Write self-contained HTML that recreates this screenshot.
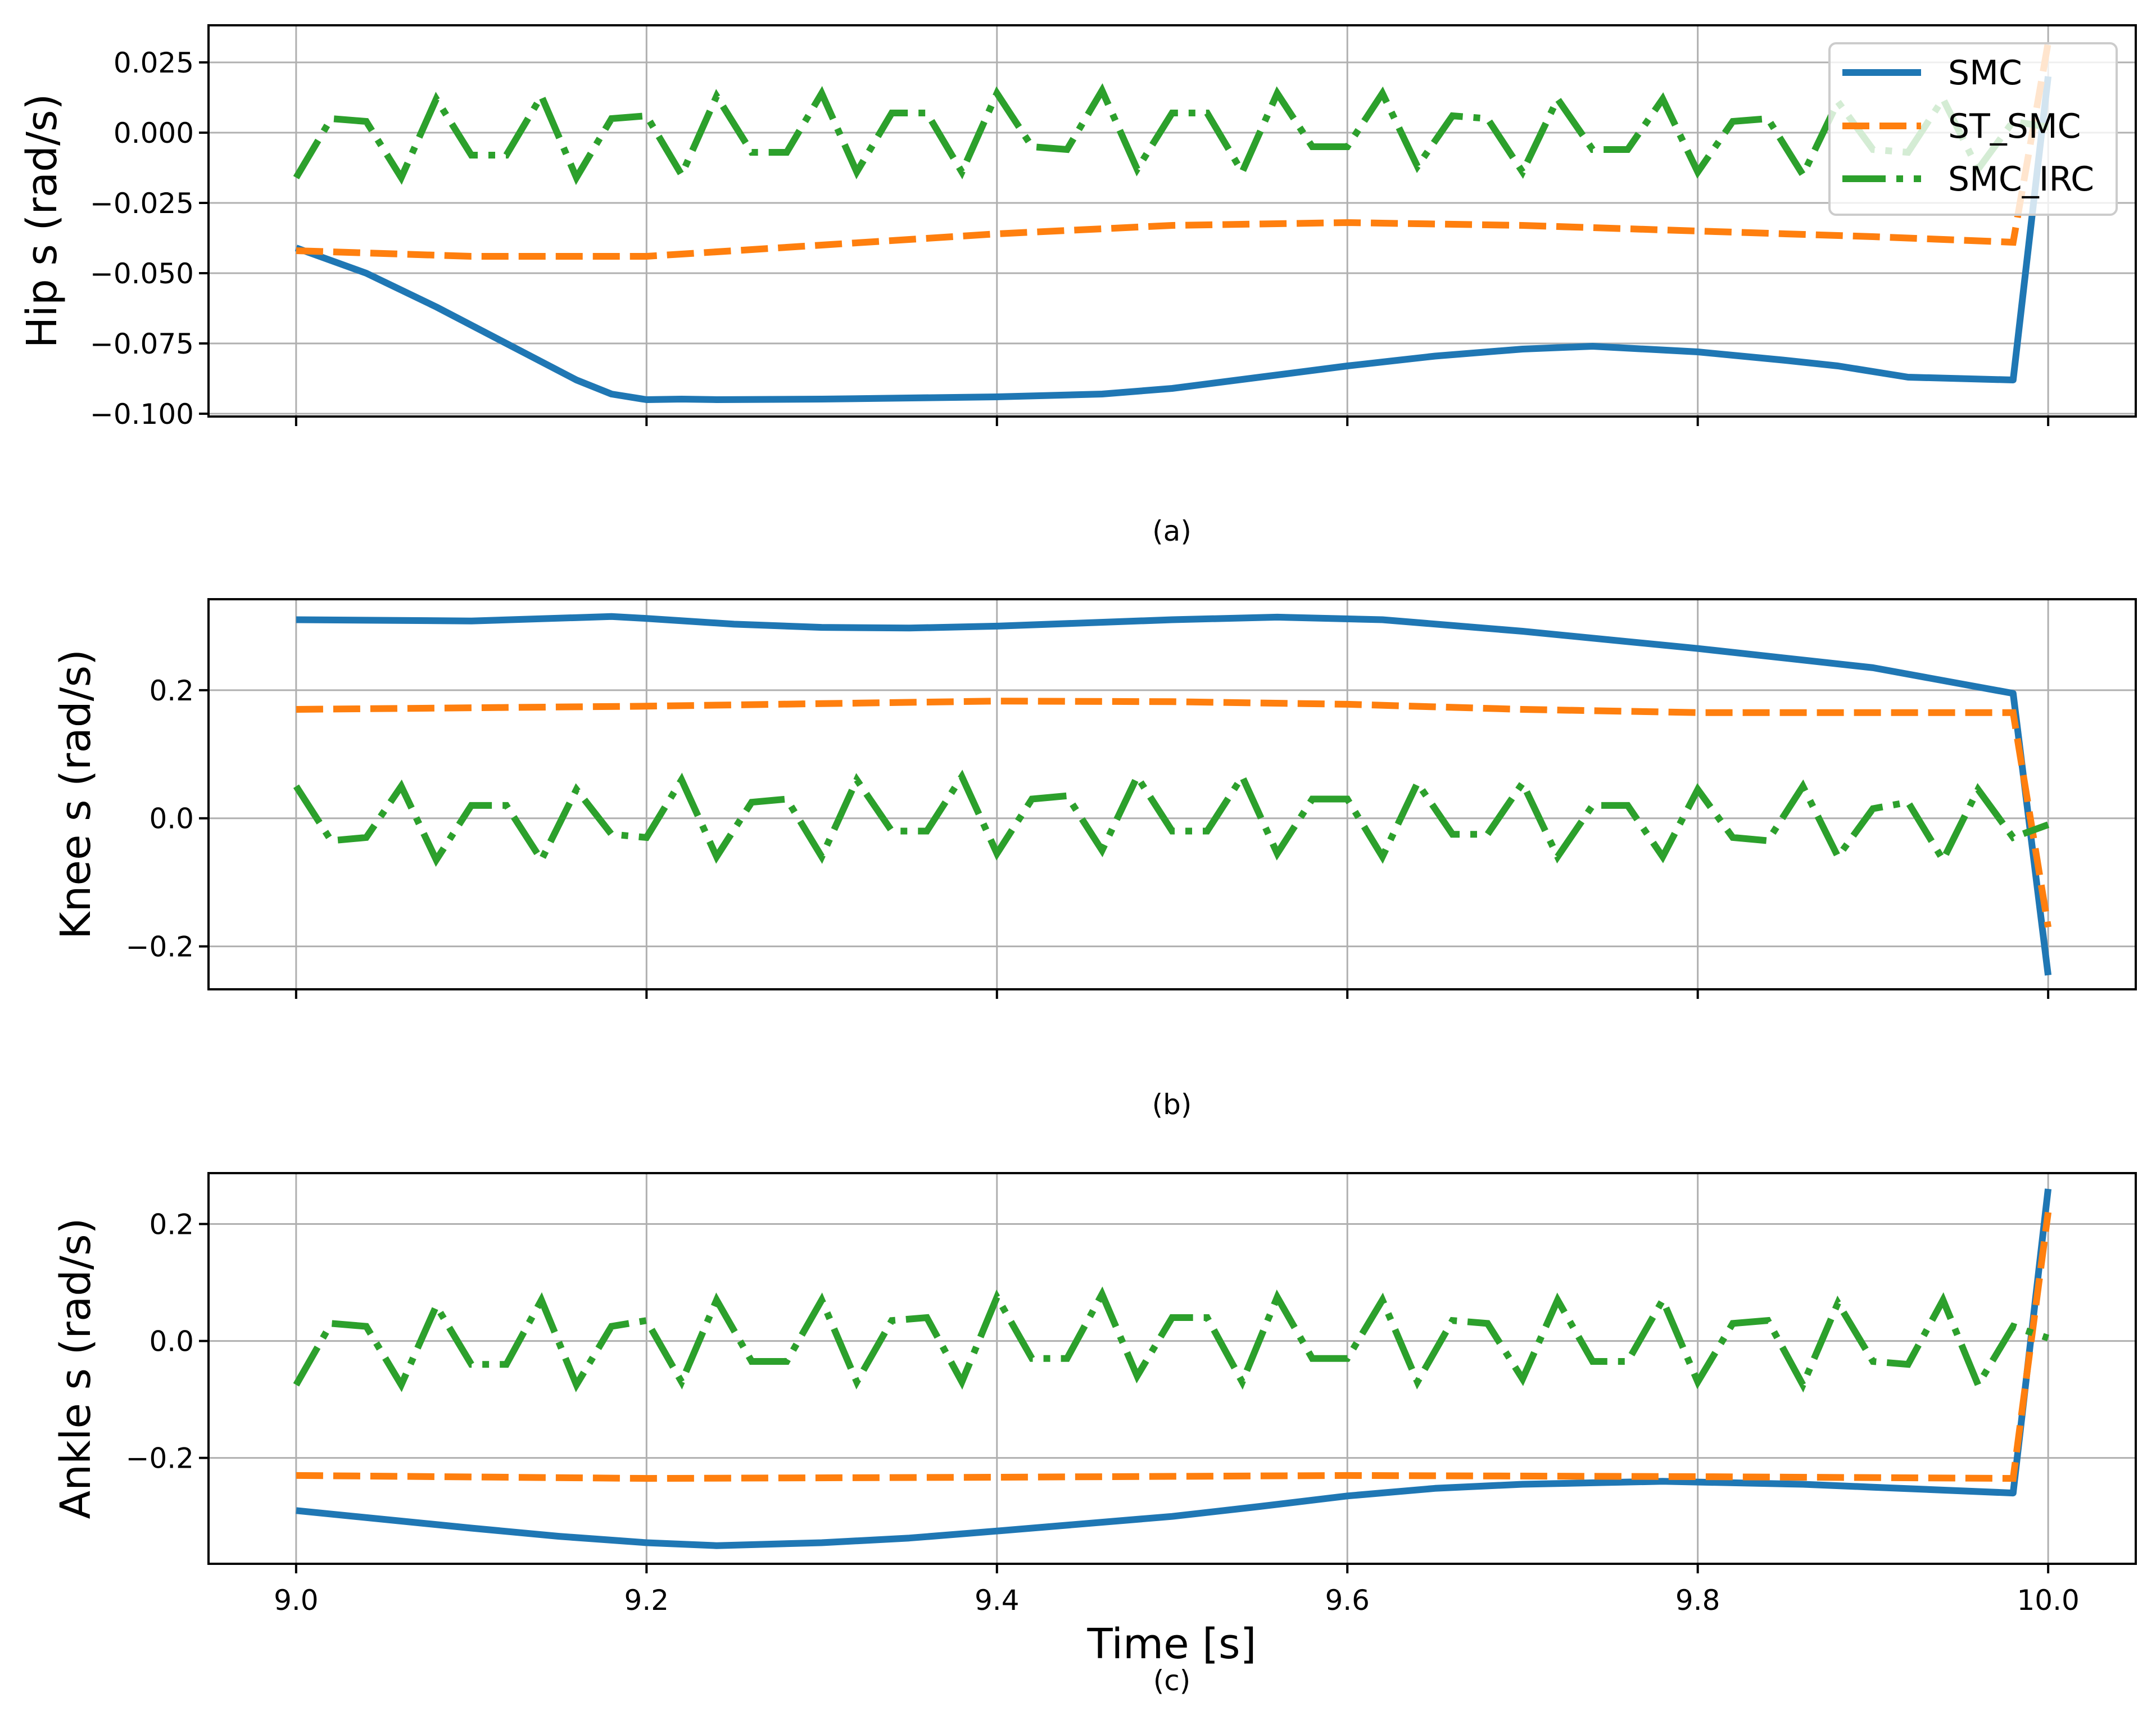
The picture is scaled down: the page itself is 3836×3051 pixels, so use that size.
<!DOCTYPE html>
<html><head><meta charset="utf-8">
<style>
html,body{margin:0;padding:0;background:#fff;}
svg{display:block;font-family:"DejaVu Sans","Liberation Sans",sans-serif;}
</style></head>
<body>
<svg id="chart" width="3836" height="3051" viewBox="0 0 3836 3051" xmlns="http://www.w3.org/2000/svg"></svg>
<script>
const timeGrid = [9.0,9.02,9.04,9.06,9.08,9.10,9.12,9.14,9.16,9.18,9.20,9.22,9.24,9.26,9.28,9.30,9.32,9.34,9.36,9.38,9.40,9.42,9.44,9.46,9.48,9.50,9.52,9.54,9.56,9.58,9.60,9.62,9.64,9.66,9.68,9.70,9.72,9.74,9.76,9.78,9.80,9.82,9.84,9.86,9.88,9.90,9.92,9.94,9.96,9.98,10.0];
const xTicks = [9.0,9.2,9.4,9.6,9.8,10.0];
const xTickLabels = ["9.0","9.2","9.4","9.6","9.8","10.0"];

const hipSmcT = [9.0,9.04,9.08,9.12,9.16,9.18,9.20,9.22,9.24,9.30,9.40,9.46,9.50,9.55,9.60,9.65,9.70,9.74,9.80,9.85,9.88,9.92,9.98,10.0];
const hipSmc = [-0.041,-0.050,-0.062,-0.075,-0.088,-0.093,-0.095,-0.0948,-0.095,-0.0948,-0.094,-0.093,-0.091,-0.087,-0.083,-0.0795,-0.077,-0.076,-0.078,-0.081,-0.083,-0.087,-0.088,0.020];
const hipStT = [9.0,9.1,9.2,9.3,9.4,9.5,9.6,9.7,9.8,9.9,9.98,10.0];
const hipSt = [-0.042,-0.044,-0.044,-0.040,-0.036,-0.033,-0.032,-0.033,-0.035,-0.037,-0.039,0.032];
const hipIrc = [-0.016,0.005,0.004,-0.016,0.012,-0.008,-0.008,0.013,-0.016,0.005,0.006,-0.015,0.013,-0.007,-0.007,0.014,-0.014,0.007,0.007,-0.014,0.014,-0.005,-0.006,0.015,-0.013,0.007,0.007,-0.014,0.014,-0.005,-0.005,0.014,-0.012,0.006,0.005,-0.014,0.012,-0.006,-0.006,0.012,-0.014,0.004,0.005,-0.015,0.011,-0.006,-0.007,0.012,-0.013,0.004,0.002];

const kneeSmcT = [9.0,9.1,9.18,9.2,9.25,9.3,9.35,9.4,9.5,9.56,9.62,9.7,9.8,9.9,9.98,10.0];
const kneeSmc = [0.31,0.308,0.315,0.312,0.303,0.298,0.297,0.300,0.310,0.314,0.310,0.292,0.265,0.235,0.195,-0.245];
const kneeStT = [9.0,9.2,9.4,9.5,9.6,9.7,9.8,9.98,10.0];
const kneeSt = [0.170,0.175,0.183,0.182,0.178,0.170,0.165,0.165,-0.170];
const kneeIrc = [0.05,-0.035,-0.03,0.05,-0.065,0.02,0.02,-0.065,0.045,-0.025,-0.03,0.06,-0.06,0.025,0.03,-0.06,0.06,-0.02,-0.02,0.065,-0.055,0.03,0.035,-0.05,0.065,-0.02,-0.02,0.065,-0.055,0.03,0.03,-0.06,0.055,-0.025,-0.025,0.055,-0.06,0.02,0.02,-0.06,0.045,-0.03,-0.035,0.05,-0.06,0.015,0.025,-0.065,0.045,-0.03,-0.01];

const ankleSmcT = [9.0,9.1,9.15,9.2,9.24,9.3,9.35,9.4,9.5,9.55,9.6,9.65,9.7,9.78,9.86,9.9,9.98,10.0];
const ankleSmc = [-0.29,-0.32,-0.334,-0.345,-0.35,-0.345,-0.337,-0.325,-0.300,-0.283,-0.265,-0.252,-0.245,-0.240,-0.245,-0.250,-0.260,0.26];
const ankleStT = [9.0,9.2,9.4,9.6,9.8,9.98,10.0];
const ankleSt = [-0.230,-0.235,-0.233,-0.230,-0.232,-0.235,0.22];
const ankleIrc = [-0.075,0.03,0.025,-0.075,0.06,-0.04,-0.04,0.07,-0.075,0.025,0.035,-0.07,0.07,-0.035,-0.035,0.07,-0.07,0.035,0.04,-0.07,0.075,-0.03,-0.03,0.08,-0.06,0.04,0.04,-0.07,0.075,-0.03,-0.03,0.07,-0.07,0.035,0.03,-0.065,0.07,-0.035,-0.035,0.07,-0.07,0.03,0.035,-0.075,0.065,-0.035,-0.04,0.07,-0.075,0.025,0.005];

const hipYTicks = [-0.1,-0.075,-0.05,-0.025,0,0.025];
const hipYLabels = ["\u22120.100","\u22120.075","\u22120.050","\u22120.025","0.000","0.025"];
const kneeYTicks = [-0.2,0,0.2];
const kneeYLabels = ["\u22120.2","0.0","0.2"];
const ankleYTicks = [-0.2,0,0.2];
const ankleYLabels = ["\u22120.2","0.0","0.2"];

const NS = "http://www.w3.org/2000/svg";
const svg = document.getElementById('chart');
const L = 371, R = 3800;
const xMin = 8.95, xMax = 10.05;
function xs(v){ return L + (v - xMin) / (xMax - xMin) * (R - L); }
function mk(tag, attrs, parent){ const e = document.createElementNS(NS, tag); for (const k in attrs) e.setAttribute(k, attrs[k]); (parent||svg).appendChild(e); return e; }

const C_SMC = "#1f77b4", C_ST = "#ff7f0e", C_IRC = "#2ca02c";
const LW = 12;

const panels = [
  {id:'hip', top:45, bot:741, ymin:-0.101, ymax:0.0382, yt:hipYTicks, yl:hipYLabels, label:"Hip s (rad/s)", labX:100, sub:"(a)", subY:944,
   smcT:hipSmcT, smc:hipSmc, stT:hipStT, st:hipSt, irc:hipIrc},
  {id:'knee', top:1066, bot:1760, ymin:-0.267, ymax:0.342, yt:kneeYTicks, yl:kneeYLabels, label:"Knee s (rad/s)", labX:160, sub:"(b)", subY:1964,
   smcT:kneeSmcT, smc:kneeSmc, stT:kneeStT, st:kneeSt, irc:kneeIrc},
  {id:'ankle', top:2087, bot:2782, ymin:-0.381, ymax:0.287, yt:ankleYTicks, yl:ankleYLabels, label:"Ankle s (rad/s)", labX:160, sub:"(c)", subY:2989,
   smcT:ankleSmcT, smc:ankleSmc, stT:ankleStT, st:ankleSt, irc:ankleIrc}
];

panels.forEach((p, pi) => {
  const ys = v => p.bot - (v - p.ymin) / (p.ymax - p.ymin) * (p.bot - p.top);
  const g = mk('g', {});
  
  
  const clipId = 'clip' + pi;
  const cp = mk('clipPath', {id: clipId}, g);
  mk('rect', {x:L, y:p.top, width:R-L, height:p.bot-p.top}, cp);
  xTicks.forEach(t => {
    const gl = mk('line', {x1:xs(t), x2:xs(t), y1:p.top, y2:p.bot, stroke:'#b0b0b0', 'stroke-width':3}, g);
    
    
    const tk = mk('line', {x1:xs(t), x2:xs(t), y1:p.bot, y2:p.bot+17, stroke:'#000', 'stroke-width':4}, g);
    
    
  });
  p.yt.forEach((t, i) => {
    const gl = mk('line', {x1:L, x2:R, y1:ys(t), y2:ys(t), stroke:'#b0b0b0', 'stroke-width':3}, g);
    
    
    const tk = mk('line', {x1:L-17, x2:L, y1:ys(t), y2:ys(t), stroke:'#000', 'stroke-width':4}, g);
    
    
    const tl = mk('text', {x:L-26, y:ys(t)+18, 'text-anchor':'end', 'font-size':50, fill:'#000'}, g);
    tl.textContent = p.yl[i];
    
    
  });
  const pts = (T, V) => T.map((t, i) => xs(t).toFixed(1) + ',' + ys(V[i]).toFixed(1)).join(' ');
  const lg = mk('g', {'clip-path':'url(#' + clipId + ')'}, g);
  const s1 = mk('polyline', {points:pts(p.smcT, p.smc), fill:'none', stroke:C_SMC, 'stroke-width':LW, 'stroke-linejoin':'round'}, lg);
  
  
  const s2 = mk('polyline', {points:pts(p.stT, p.st), fill:'none', stroke:C_ST, 'stroke-width':LW, 'stroke-dasharray':'48 18'}, lg);
  
  
  const s3 = mk('polyline', {points:pts(timeGrid, p.irc), fill:'none', stroke:C_IRC, 'stroke-width':LW, 'stroke-dasharray':'77 19 12 19'}, lg);
  
  
  const fr = mk('rect', {x:L, y:p.top, width:R-L, height:p.bot-p.top, fill:'none', stroke:'#000', 'stroke-width':4}, g);
  
  
  const cy = (p.top + p.bot) / 2;
  const yl = mk('text', {x:0, y:0, transform:'translate(' + p.labX + ',' + cy + ') rotate(-90)', 'text-anchor':'middle', 'font-size':74, fill:'#000'}, g);
  yl.textContent = p.label;
  
  
  const sc = mk('text', {x:2085, y:p.subY+18, 'text-anchor':'middle', 'font-size':50, fill:'#000'}, g);
  sc.textContent = p.sub;
  
  
  if (pi === 2) {
    xTicks.forEach((t, i) => {
      const tl = mk('text', {x:xs(t), y:p.bot+82, 'text-anchor':'middle', 'font-size':50, fill:'#000'}, g);
      tl.textContent = xTickLabels[i];
      
      
    });
    const xt = mk('text', {x:2085, y:2950, 'text-anchor':'middle', 'font-size':74, fill:'#000'}, g);
    xt.textContent = "Time [s]";
    
    
  }
});

const lgd = mk('g', {});


const box = mk('rect', {x:3255, y:77, width:511, height:305, rx:12, fill:'#fff', 'fill-opacity':0.8, stroke:'#cccccc', 'stroke-width':4}, lgd);


const legendNames = ["SMC","ST_SMC","SMC_IRC"];
const legendColors = [C_SMC, C_ST, C_IRC];
const legendDash = ["none","48 18","77 19 12 19"];
const legendY = [129, 224, 318];
legendNames.forEach((n, i) => {
  const ln = mk('line', {x1:3278, x2:3418, y1:legendY[i], y2:legendY[i], stroke:legendColors[i], 'stroke-width':LW, 'stroke-dasharray':legendDash[i]}, lgd);
  
  
  const tx = mk('text', {x:3466, y:legendY[i]+21, 'font-size':60, fill:'#000'}, lgd);
  tx.textContent = n;
  
  
});
</script>
</body></html>
